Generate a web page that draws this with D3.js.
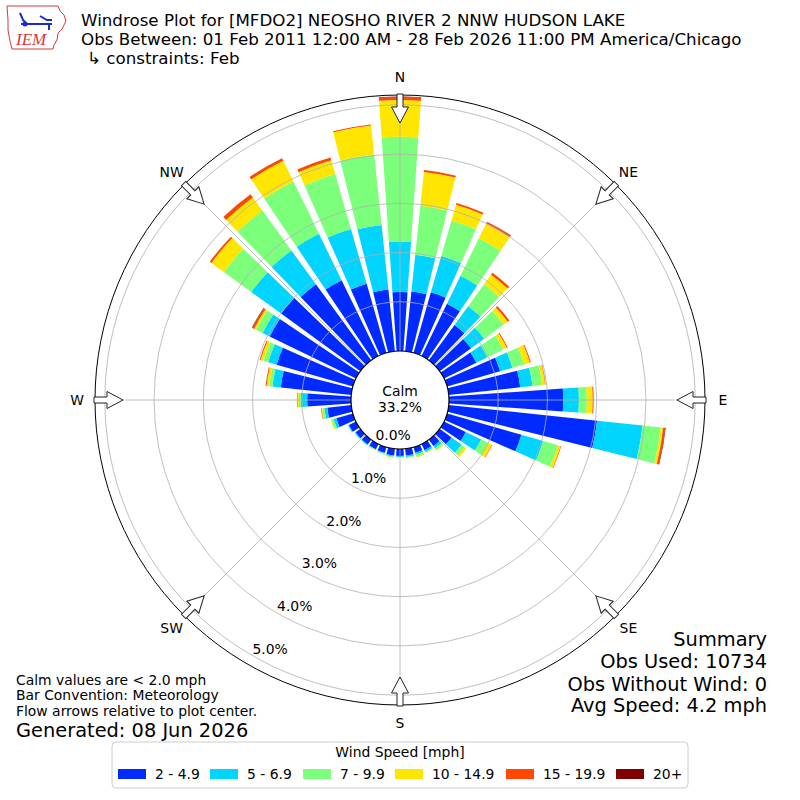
<!DOCTYPE html>
<html>
<head>
<meta charset="utf-8">
<script src="https://cdn.jsdelivr.net/npm/d3@7"></script>
<style>
  body { margin: 0; background: #fff; }
  svg text { font-family: "DejaVu Sans", sans-serif; fill: #000; }
</style>
</head>
<body>
<svg id="chart" width="800" height="800"></svg>
<script>
// wind directions (bar centres, degrees from north)
const directions = [0, 10, 20, 30, 40, 50, 60, 70, 80, 90, 100, 110, 120, 130, 140, 150, 160, 170,
                    180, 190, 200, 210, 220, 230, 240, 250, 260, 270, 280, 290, 300, 310, 320, 330, 340, 350];

// percent of obs per direction, per speed class
const spd2to5 = [1.20, 1.22, 1.28, 1.18, 0.89, 0.79, 0.73, 1.12, 1.46, 2.32, 3.03, 1.57, 0.49, 0.30, 0.16, 0.14, 0.12, 0.14,
                 0.14, 0.14, 0.12, 0.12, 0.12, 0.12, 0.16, 0.35, 0.49, 0.89, 1.44, 1.61, 1.95, 1.99, 1.91, 1.71, 1.46, 1.26];
const spd5to7 = [1.02, 0.75, 0.77, 0.63, 0.47, 0.33, 0.25, 0.26, 0.25, 0.32, 0.93, 0.46, 0.35, 0.25, 0.06, 0.04, 0.04, 0.03,
                 0.02, 0.02, 0.02, 0.01, 0.02, 0.02, 0.02, 0.06, 0.06, 0.13, 0.17, 0.18, 0.16, 0.75, 0.85, 1.05, 1.16, 1.32];
const spd7to10 = [2.13, 1.00, 0.75, 0.85, 0.55, 0.49, 0.36, 0.25, 0.20, 0.16, 0.37, 0.31, 0.16, 0.08, 0.04, 0.02, 0.04, 0.02,
                  0.01, 0.02, 0.01, 0.01, 0.01, 0.01, 0.01, 0.04, 0.04, 0.04, 0.07, 0.10, 0.15, 0.69, 1.00, 1.18, 1.16, 1.44];
const spd10to15 = [0.75, 0.69, 0.33, 0.33, 0.24, 0.10, 0.08, 0.12, 0.06, 0.12, 0.05, 0.06, 0.08, 0.04, 0.02, 0.01, 0.02, 0.01,
                   0.01, 0.01, 0.01, 0.01, 0.00, 0.00, 0.00, 0.02, 0.02, 0.03, 0.05, 0.06, 0.04, 0.31, 0.33, 0.47, 0.29, 0.59];
const spd15to20 = [0.06, 0.04, 0.04, 0.04, 0.05, 0.04, 0.02, 0.02, 0.01, 0.02, 0.04, 0.01, 0.01, 0.00, 0.00, 0.00, 0.00, 0.00,
                   0.00, 0.00, 0.00, 0.00, 0.00, 0.00, 0.00, 0.00, 0.01, 0.01, 0.02, 0.02, 0.04, 0.04, 0.08, 0.06, 0.06, 0.02];
const spd20plus = [0.01, 0.00, 0.00, 0.005, 0.00, 0.00, 0.00, 0.00, 0.00, 0.00, 0.01, 0.00, 0.00, 0.00, 0.00, 0.00, 0.00, 0.00,
                   0.00, 0.00, 0.00, 0.00, 0.00, 0.00, 0.00, 0.00, 0.00, 0.00, 0.00, 0.00, 0.01, 0.00, 0.00, 0.00, 0.00, 0.00];

const speedLabels = ["2 - 4.9", "5 - 6.9", "7 - 9.9", "10 - 14.9", "15 - 19.9", "20+"];
const speedColors = ["#002aff", "#00d4ff", "#7cff7a", "#ffe600", "#ff4700", "#800000"];

const ringTicks = [0, 1, 2, 3, 4, 5];
const compassAngles = [0, 45, 90, 135, 180, 225, 270, 315];
const compassLabels = ["N", "NE", "E", "SE", "S", "SW", "W", "NW"];

const calmPct = "33.2%";
const titleLines = [
  "Windrose Plot for [MFDO2] NEOSHO RIVER 2 NNW HUDSON LAKE",
  "Obs Between: 01 Feb 2011 12:00 AM - 28 Feb 2026 11:00 PM America/Chicago",
  "↳ constraints: Feb"
];
const noteLines = ["Calm values are < 2.0 mph", "Bar Convention: Meteorology", "Flow arrows relative to plot center."];
const summaryLines = ["Summary", "Obs Used: 10734", "Obs Without Wind: 0", "Avg Speed: 4.2 mph"];

// ------------------------------------------------------------------
const svg = d3.select("#chart");
const cx = 400, cy = 400;
const rad = Math.PI / 180;
const small = "13.9px";

const r = d3.scaleLinear().domain([0, 5.2]).range([49, 305]);

const series = [spd2to5, spd5to7, spd7to10, spd10to15, spd15to20, spd20plus];
const keys = speedLabels;
const rows = directions.map((d, i) => {
  const row = { dir: d };
  keys.forEach((k, j) => row[k] = series[j][i]);
  return row;
});
const stacked = d3.stack().keys(keys)(rows);

const g = svg.append("g").attr("transform", `translate(${cx},${cy})`);

const arc = d3.arc();
const halfWidth = 4; // degrees

stacked.forEach((layer, j) => {
  g.append("g").selectAll("path")
    .data(layer)
    .join("path")
    .attr("d", d => arc({
      innerRadius: r(d[0]),
      outerRadius: r(d[1]),
      startAngle: (d.data.dir - halfWidth) * rad,
      endAngle: (d.data.dir + halfWidth) * rad
    }))
    .attr("fill", speedColors[j]);
});

// grid on top of bars
g.append("g").selectAll("circle")
  .data(ringTicks.slice(1))
  .join("circle")
  .attr("r", d => r(d))
  .attr("fill", "none")
  .attr("stroke", "#b0b0b0")
  .attr("stroke-width", 0.8);

g.append("g").selectAll("line")
  .data(compassAngles)
  .join("line")
  .attr("x1", d => r(0) * Math.sin(d * rad))
  .attr("y1", d => -r(0) * Math.cos(d * rad))
  .attr("x2", d => r(5.2) * Math.sin(d * rad))
  .attr("y2", d => -r(5.2) * Math.cos(d * rad))
  .attr("stroke", "#b0b0b0")
  .attr("stroke-width", 0.8);

g.append("circle").attr("r", r(5.2)).attr("fill", "none").attr("stroke", "#000").attr("stroke-width", 1);

// calm circle
g.append("circle").attr("r", r(0)).attr("fill", "#fff").attr("stroke", "#000").attr("stroke-width", 1.2);
g.append("text").attr("x", 0).attr("y", -4).attr("text-anchor", "middle").style("font-size", small).text("Calm");
g.append("text").attr("x", 0).attr("y", 12).attr("text-anchor", "middle").style("font-size", small).text(calmPct);

// ring labels along 210 deg
const labelBearing = 210 * rad;
g.append("g").selectAll("text")
  .data(ringTicks)
  .join("text")
  .attr("x", d => r(d) * Math.sin(labelBearing))
  .attr("y", d => -r(d) * Math.cos(labelBearing) - 2)
  .style("font-size", small)
  .text(d => d3.format(".1f")(d) + "%");

// compass labels
g.append("g").selectAll("text")
  .data(compassAngles)
  .join("text")
  .attr("x", d => 323 * Math.sin(d * rad))
  .attr("y", d => -323 * Math.cos(d * rad) + 5)
  .attr("text-anchor", "middle")
  .style("font-size", small)
  .text((d, i) => compassLabels[i]);

// flow arrows pointing at the centre
const arrowPath = "M0,-277 L-8.5,-293 L-3,-293 L-3,-306 L3,-306 L3,-293 L8.5,-293 Z";
g.append("g").selectAll("path")
  .data(compassAngles)
  .join("path")
  .attr("d", arrowPath)
  .attr("transform", d => `rotate(${d})`)
  .attr("fill", "#fff")
  .attr("stroke", "#222")
  .attr("stroke-width", 1);

// titles
svg.append("g").selectAll("text")
  .data(titleLines)
  .join("text")
  .attr("x", (d, i) => i === 2 ? 87 : 81)
  .attr("y", (d, i) => [26, 44.5, 63.5][i])
  .style("font-size", "16.7px")
  .text(d => d);

// IEM logo (rough)
const logo = svg.append("g");
logo.append("path")
  .attr("d", "M7,6 L58,6 L60,11 L64,15 L66,21 L62,29 L58,33 L57,40 L54,45 L53,49 L12,49 L10,41 L8,30 L8,20 Z")
  .attr("fill", "none").attr("stroke", "#d43a3a").attr("stroke-width", 1);
logo.append("path").attr("d", "M21,24 L52,24 M40,16 L47,20 L52,20 M49,24 L49,30 M20,13 L23,20 L27,24")
  .attr("fill", "none").attr("stroke", "#1a2ad0").attr("stroke-width", 2);
logo.append("circle").attr("cx", 25).attr("cy", 24).attr("r", 2.5).attr("fill", "#1a2ad0");
logo.append("text").attr("x", 16).attr("y", 45)
  .style("font-family", "'Liberation Serif', serif").style("font-style", "italic")
  .style("font-size", "17px").style("fill", "#d43a3a").text("IEM");

// notes bottom-left
svg.append("g").selectAll("text")
  .data(noteLines)
  .join("text")
  .attr("x", 16)
  .attr("y", (d, i) => 685 + i * 15.3)
  .style("font-size", small)
  .text(d => d);
svg.append("text").attr("x", 16).attr("y", 737).style("font-size", "19.4px").text("Generated: 08 Jun 2026");

// summary bottom-right
svg.append("g").selectAll("text")
  .data(summaryLines)
  .join("text")
  .attr("x", 767)
  .attr("y", (d, i) => [646, 668, 691, 712][i])
  .attr("text-anchor", "end")
  .style("font-size", "19.4px")
  .text(d => d);

// legend
const legend = svg.append("g");
legend.append("rect").attr("x", 112).attr("y", 742).attr("width", 576).attr("height", 46).attr("rx", 4)
  .attr("fill", "#fff").attr("stroke", "#cccccc").attr("stroke-width", 1);
legend.append("text").attr("x", 400).attr("y", 757).attr("text-anchor", "middle").style("font-size", small).text("Wind Speed [mph]");
const swatchX = [118, 210, 303, 395, 506, 616];
speedLabels.forEach((lab, i) => {
  legend.append("rect").attr("x", swatchX[i]).attr("y", 769).attr("width", 28).attr("height", 10).attr("fill", speedColors[i]);
  legend.append("text").attr("x", swatchX[i] + 37).attr("y", 779).style("font-size", small).text(lab);
});
</script>
</body>
</html>
